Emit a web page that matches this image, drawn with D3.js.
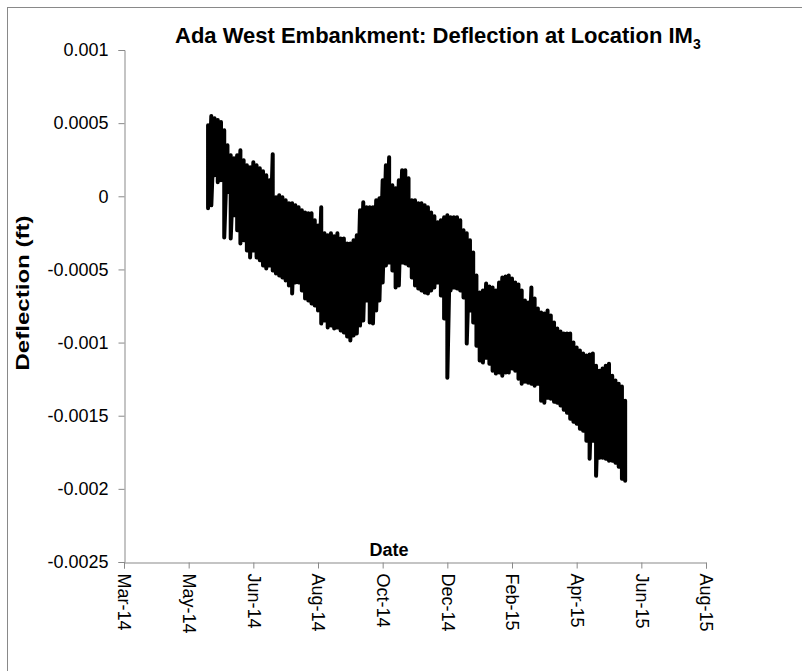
<!DOCTYPE html>
<html>
<head>
<meta charset="utf-8">
<script src="https://cdn.jsdelivr.net/npm/d3@7"></script>
<style>
	body { margin: 0; background: #fff; }
	svg { display: block; font-family: Arial, 'Liberation Sans', sans-serif; }
</style>
</head>
<body>
<svg id="chart" width="802" height="671"></svg>
<script>
// readings, 3-day steps: daily high and low of the deflection (ft)
const dates = [
	'2014-05-19', '2014-05-22', '2014-05-25', '2014-05-28', '2014-05-31', '2014-06-03', '2014-06-06', '2014-06-09', '2014-06-12', '2014-06-15',
	'2014-06-18', '2014-06-21', '2014-06-24', '2014-06-27', '2014-06-30', '2014-07-03', '2014-07-06', '2014-07-09', '2014-07-12', '2014-07-15',
	'2014-07-18', '2014-07-21', '2014-07-24', '2014-07-27', '2014-07-30', '2014-08-02', '2014-08-05', '2014-08-08', '2014-08-11', '2014-08-14',
	'2014-08-17', '2014-08-20', '2014-08-23', '2014-08-26', '2014-08-29', '2014-09-01', '2014-09-04', '2014-09-07', '2014-09-10', '2014-09-13',
	'2014-09-16', '2014-09-19', '2014-09-22', '2014-09-25', '2014-09-28', '2014-10-01', '2014-10-04', '2014-10-07', '2014-10-10', '2014-10-13',
	'2014-10-16', '2014-10-19', '2014-10-22', '2014-10-25', '2014-10-28', '2014-10-31', '2014-11-03', '2014-11-06', '2014-11-09', '2014-11-12',
	'2014-11-15', '2014-11-18', '2014-11-21', '2014-11-24', '2014-11-27', '2014-11-30', '2014-12-03', '2014-12-06', '2014-12-09', '2014-12-12',
	'2014-12-15', '2014-12-18', '2014-12-21', '2014-12-24', '2014-12-27', '2014-12-30', '2015-01-02', '2015-01-05', '2015-01-08', '2015-01-11',
	'2015-01-14', '2015-01-17', '2015-01-20', '2015-01-23', '2015-01-26', '2015-01-29', '2015-02-01', '2015-02-04', '2015-02-07', '2015-02-10',
	'2015-02-13', '2015-02-16', '2015-02-19', '2015-02-22', '2015-02-25', '2015-02-28', '2015-03-03', '2015-03-06', '2015-03-09', '2015-03-12',
	'2015-03-15', '2015-03-18', '2015-03-21', '2015-03-24', '2015-03-27', '2015-03-30', '2015-04-02', '2015-04-05', '2015-04-08', '2015-04-11',
	'2015-04-14', '2015-04-17', '2015-04-20', '2015-04-23', '2015-04-26', '2015-04-29', '2015-05-02', '2015-05-05', '2015-05-08', '2015-05-11',
	'2015-05-14', '2015-05-17', '2015-05-20', '2015-05-23', '2015-05-26', '2015-05-29', '2015-06-01', '2015-06-04', '2015-06-07', '2015-06-10'
];
const dailyMax = [
	0.000486, 0.000548, 0.000534, 0.000521, 0.000507, 0.000452, 0.000349, 0.000281, 0.000260, 0.000281,
	0.000315, 0.000247, 0.000212, 0.000199, 0.000233, 0.000212, 0.000192, 0.000171, 0.000144, 0.000110,
	0.000288, -0.000007, 0.000007, -0.000007, -0.000027, -0.000048, -0.000048, -0.000062, -0.000075, -0.000096,
	-0.000110, -0.000116, -0.000116, -0.000164, -0.000199, -0.000075, -0.000253, -0.000267, -0.000253, -0.000274,
	-0.000253, -0.000288, -0.000288, -0.000322, -0.000322, -0.000301, -0.000267, -0.000096, -0.000041, -0.000075,
	-0.000075, -0.000075, -0.000027, -0.000014, 0.000110, 0.000212, 0.000267, 0.000075, 0.000055, 0.000110,
	0.000178, 0.000178, 0.000123, -0.000027, -0.000027, -0.000048, -0.000048, -0.000062, -0.000075, -0.000110,
	-0.000137, -0.000178, -0.000164, -0.000144, -0.000130, -0.000144, -0.000144, -0.000144, -0.000164, -0.000233,
	-0.000253, -0.000301, -0.000384, -0.000541, -0.000658, -0.000644, -0.000596, -0.000616, -0.000623, -0.000644,
	-0.000589, -0.000555, -0.000548, -0.000541, -0.000562, -0.000589, -0.000603, -0.000644, -0.000712, -0.000726,
	-0.000623, -0.000699, -0.000767, -0.000795, -0.000801, -0.000781, -0.000815, -0.000863, -0.000904, -0.000925,
	-0.000938, -0.000938, -0.000938, -0.001000, -0.001034, -0.001055, -0.001075, -0.001089, -0.001082, -0.001075,
	-0.001158, -0.001192, -0.001178, -0.001158, -0.001144, -0.001226, -0.001260, -0.001281, -0.001301, -0.001397
];
const dailyMin = [
	-0.000082, -0.000062, 0.000144, 0.000096, 0.000110, -0.000281, 0.000027, -0.000288, -0.000130, -0.000233,
	-0.000322, -0.000301, -0.000370, -0.000418, -0.000370, -0.000418, -0.000438, -0.000473, -0.000493, -0.000473,
	-0.000507, -0.000527, -0.000541, -0.000555, -0.000575, -0.000610, -0.000664, -0.000589, -0.000589, -0.000644,
	-0.000699, -0.000712, -0.000733, -0.000747, -0.000781, -0.000870, -0.000849, -0.000897, -0.000884, -0.000904,
	-0.000897, -0.000918, -0.000932, -0.000959, -0.000986, -0.000952, -0.000938, -0.000884, -0.000849, -0.000712,
	-0.000863, -0.000870, -0.000781, -0.000712, -0.000589, -0.000473, -0.000452, -0.000507, -0.000623, -0.000610,
	-0.000452, -0.000459, -0.000473, -0.000555, -0.000610, -0.000630, -0.000644, -0.000658, -0.000664, -0.000644,
	-0.000623, -0.000589, -0.000678, -0.000836, -0.001240, -0.000644, -0.000623, -0.000630, -0.000644, -0.000692,
	-0.001007, -0.000781, -0.000863, -0.001021, -0.001123, -0.001137, -0.001103, -0.001144, -0.001192, -0.001212,
	-0.001205, -0.001226, -0.001205, -0.001205, -0.001178, -0.001192, -0.001247, -0.001281, -0.001267, -0.001274,
	-0.001281, -0.001295, -0.001281, -0.001397, -0.001411, -0.001377, -0.001384, -0.001404, -0.001411, -0.001431,
	-0.001459, -0.001479, -0.001521, -0.001541, -0.001555, -0.001589, -0.001603, -0.001671, -0.001794, -0.001671,
	-0.001911, -0.001788, -0.001788, -0.001794, -0.001808, -0.001808, -0.001822, -0.001849, -0.001931, -0.001945
];

// axis ticks (excel style, 60 day major unit)
const xTickDates = ['2014-03-02', '2014-05-01', '2014-06-30', '2014-08-29', '2014-10-28', '2014-12-27', '2015-02-25', '2015-04-26', '2015-06-25', '2015-08-24'];
const yTicks = [0.001, 0.0005, 0, -0.0005, -0.001, -0.0015, -0.002, -0.0025];

const parseDate = d3.timeParse('%Y-%m-%d');
const fmtDate = d3.timeFormat('%b-%y');

const margin = { left: 124, right: 96, top: 50, bottom: 109 };
const W = 802, H = 671;
const axisColor = '#898989';

const svg = d3.select('#chart');

// chart area frame (runs off the right and bottom edge)
svg.append('rect')
	.attr('x', 7.5).attr('y', 7.5)
	.attr('width', 820).attr('height', 700)
	.attr('fill', 'none')
	.attr('stroke', axisColor);

const x = d3.scaleTime()
	.domain([parseDate(xTickDates[0]), parseDate(xTickDates[xTickDates.length - 1])])
	.range([margin.left, W - margin.right]);
const y = d3.scaleLinear()
	.domain([d3.min(yTicks), d3.max(yTicks)])
	.range([H - margin.bottom, margin.top]);

// line goes high -> low for every reading, gives the dense band look
const points = [];
dates.forEach((d, i) => {
	const t = parseDate(d);
	points.push([t, dailyMax[i]], [t, dailyMin[i]]);
});

const line = d3.line().x(d => x(d[0])).y(d => y(d[1]));
svg.append('path')
	.datum(points)
	.attr('d', line)
	.attr('fill', 'none')
	.attr('stroke', '#000')
	.attr('stroke-width', 4)
	.attr('stroke-linejoin', 'round')
	.attr('stroke-linecap', 'round');

// y axis
const yAxis = d3.axisLeft(y)
	.tickValues(yTicks)
	.tickSize(6)
	.tickPadding(10)
	.tickFormat(d => String(+d.toFixed(4)));
const yG = svg.append('g')
	.attr('transform', `translate(${margin.left + 0.5},0)`)
	.call(yAxis);

// x axis
const xAxis = d3.axisBottom(x)
	.tickValues(xTickDates.map(parseDate))
	.tickSize(6)
	.tickFormat(fmtDate);
const xG = svg.append('g')
	.attr('transform', `translate(0,${H - margin.bottom + 0.5})`)
	.call(xAxis);
xG.selectAll('.tick text')
	.attr('transform', 'rotate(90)')
	.attr('x', 11)
	.attr('y', 0)
	.attr('dy', '0.35em')
	.attr('text-anchor', 'start');

for (const g of [xG, yG]) {
	g.select('.domain').attr('stroke', axisColor);
	g.selectAll('.tick line').attr('stroke', axisColor);
	g.selectAll('.tick text')
		.attr('fill', '#000')
		.style('font-family', 'Arial, "Liberation Sans", sans-serif')
		.style('font-size', '18px');
}

// titles
const title = svg.append('text')
	.attr('x', 175).attr('y', 43)
	.style('font-size', '22px')
	.style('font-weight', 'bold')
	.text('Ada West Embankment: Deflection at Location IM');
title.append('tspan')
	.attr('dy', 6)
	.style('font-size', '14px')
	.text('3');

svg.append('text')
	.attr('x', 389).attr('y', 556)
	.attr('text-anchor', 'middle')
	.style('font-size', '18px')
	.style('font-weight', 'bold')
	.text('Date');

svg.append('text')
	.attr('transform', 'translate(29,293) rotate(-90)')
	.attr('text-anchor', 'middle')
	.attr('textLength', 155)
	.attr('lengthAdjust', 'spacingAndGlyphs')
	.style('font-size', '19px')
	.style('font-weight', 'bold')
	.text('Deflection (ft)');
</script>
</body>
</html>
